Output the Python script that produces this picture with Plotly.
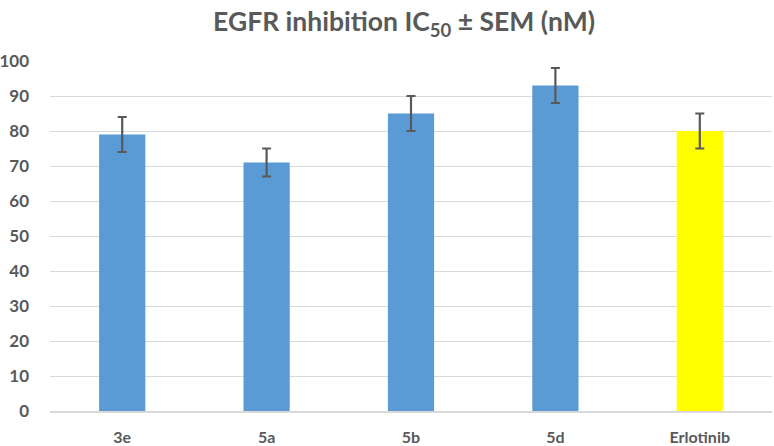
import plotly.graph_objects as go

# ── Data ──────────────────────────────────────────────────────────────────────
compounds = ["3e", "5a", "5b", "5d", "Erlotinib"]
ic50 = [79, 71, 85, 93, 80]
sem = [5, 4, 5, 5, 5]

_BLUE = "#5b9bd5"
_YELLOW = "#ffff00"
_GREY = "#595959"
_GRID = "#d9d9d9"
_FONT = "Lato, 'Open Sans', sans-serif"

bar_colors = [_YELLOW if c == "Erlotinib" else _BLUE for c in compounds]

fig = go.Figure(go.Bar(
    x=compounds, y=ic50,
    marker=dict(color=bar_colors, line=dict(width=0)),
    error_y=dict(type="data", array=sem, visible=True,
                 color=_GREY, thickness=2.2, width=4.5),
    showlegend=False,
))

fig.update_layout(
    width=774, height=446,
    paper_bgcolor="white", plot_bgcolor="white",
    font=dict(family=_FONT, color=_GREY, size=16),
    title=dict(text="<b>EGFR inhibition IC<sub>50</sub> ± SEM (nM)</b>",
               x=0.522, xanchor="center", y=0.951, yanchor="middle",
               font=dict(size=26.5, color=_GREY, family=_FONT)),
    bargap=0.68,
    margin=dict(l=50, r=2, t=61, b=35, autoexpand=False),
    xaxis=dict(showline=True, linecolor=_GRID, linewidth=1.5,
               tickfont=dict(size=16, color=_GREY, weight="bold"),
               ticks="", ticklabelstandoff=11, automargin=False),
    yaxis=dict(range=[0, 100], dtick=10, showgrid=True, gridcolor=_GRID,
               gridwidth=1.3, zeroline=False, automargin=False,
               tickfont=dict(size=17, color=_GREY, weight="bold"),
               ticks="", ticklabelstandoff=20),
)

# drop the default 8px page margin so the figure fills the window
fig.write_html("out.html", config={"displayModeBar": False},
               post_script="document.body.style.margin='0';")
